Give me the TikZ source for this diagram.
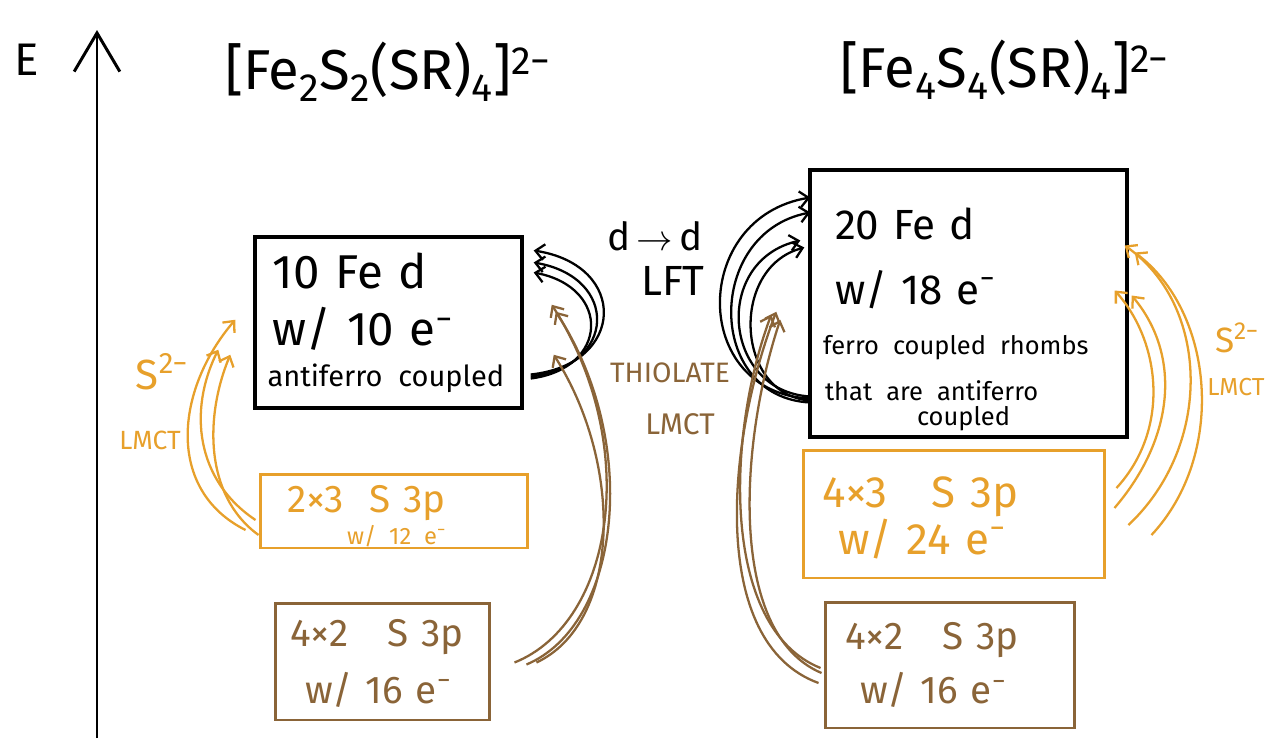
\documentclass[tikz,border=0pt]{standalone}
\usepackage{fontspec}
\setmainfont{Fira Sans}
\usepackage{xcolor}
\usetikzlibrary{arrows.meta,positioning,calc}
\definecolor{sorange}{RGB}{231,160,43}
\definecolor{sbrown}{RGB}{138,100,56}

\begin{document}
\begin{tikzpicture}[
  x=0.02cm, y=-0.02cm,
  febox/.style={draw, line width=2pt, align=left, inner ysep=0pt},
  sbox/.style={draw=sorange, text=sorange, line width=1.7pt, align=left, inner ysep=0pt},
  rbox/.style={draw=sbrown, text=sbrown, line width=1.7pt, align=left, inner ysep=0pt},
  title/.style={font=\fontsize{32}{38}\selectfont},
  lft/.style={line width=1.3pt, -{Straight Barb[length=5pt,width=9pt]}},
  lmct/.style={lft, draw=sorange},
  tlmct/.style={lft, draw=sbrown}
]
  \useasboundingbox (0,0) rectangle (1268,738);

  % energy axis
  \coordinate (eaxis0) at (97,738);
  \coordinate (eaxis1) at (97,30);
  \draw[line width=1.7pt, -{Straight Barb[length=22pt,width=26pt]}] (eaxis0) -- (eaxis1);
  \node[font=\fontsize{26}{30}\selectfont] (elbl) at (27,60) {E};

  % cluster formulas
  \node[title] (t2) at (388,72) {[Fe\textsubscript{2}S\textsubscript{2}(SR)\textsubscript{4}]\textsuperscript{2−}};
  \node[title] (t4) at (1005,70) {[Fe\textsubscript{4}S\textsubscript{4}(SR)\textsubscript{4}]\textsuperscript{2−}};

  % Fe2S2 levels
  \node[febox, minimum width=5.34cm, minimum height=3.42cm, text width=4.84cm, inner xsep=0.25cm,
        font=\fontsize{27}{33}\selectfont] (fe2d) at (388.5,322.5)
    {\hspace*{0.1cm}10 Fe d\\ \hspace*{0.1cm}w/ 10 e\textsuperscript{−}\\[-10pt]\fontsize{16.5}{33}\selectfont antiferro coupled};
  \node[sbox, minimum width=5.36cm, minimum height=1.48cm, text width=4.28cm, inner xsep=0.54cm,
        font=\fontsize{22}{26}\selectfont] (s2l) at (394,511)
    {\rule{0pt}{0.76cm}2×3\ \ S 3p\\[-8pt]\fontsize{13.5}{26}\selectfont\hspace*{1.2cm}w/ 12 e\textsuperscript{−}};
  \node[rbox, minimum width=4.3cm, minimum height=2.34cm, text width=3.7cm, inner xsep=0.3cm,
        font=\fontsize{22}{32}\selectfont] (srl) at (382.5,661.5)
    {\rule{0pt}{0.62cm}4×2\ \ \ S 3p\\\hspace*{0.3cm}w/ 16 e\textsuperscript{−}};

  % Fe4S4 levels
  \node[febox, minimum width=6.34cm, minimum height=5.34cm, text width=5.34cm, inner xsep=0.5cm,
        font=\fontsize{24}{26}\selectfont] (fe4d) at (968.5,303.5)
    {\rule{0pt}{1.26cm}20 Fe d\\[11pt] w/ 18 e\textsuperscript{−}\\[2.5pt]\fontsize{14.5}{26}\selectfont
     \hspace*{-0.24cm}ferro coupled rhombs\\ \hspace*{-0.2cm}that are antiferro\\[-11.8pt]\hspace*{1.64cm}coupled};
  \node[sbox, minimum width=6.04cm, minimum height=2.56cm, text width=5.28cm, inner xsep=0.38cm,
        font=\fontsize{25}{27}\selectfont] (s4r) at (954,514)
    {\rule{0pt}{0.76cm}4×3\ \ \ S 3p\\\hspace*{0.32cm}w/ 24 e\textsuperscript{−}};
  \node[rbox, minimum width=5cm, minimum height=2.52cm, text width=4.2cm, inner xsep=0.4cm,
        font=\fontsize{22}{31}\selectfont] (srr) at (950,665)
    {4×2\ \ \ S 3p\\\hspace*{0.3cm}w/ 16 e\textsuperscript{−}};

  % transition labels
  \node[font=\fontsize{22}{26}\selectfont] (ddlbl) at (655,236) {d\,$\rightarrow$\,d};
  \node[font=\fontsize{24}{28}\selectfont] (lftlbl) at (673,281) {LFT};
  \node[text=sbrown, font=\fontsize{16}{18}\selectfont] (thiollbl) at (670,373) {THIOLATE};
  \node[text=sbrown, font=\fontsize{17}{19}\selectfont] (tlmctlbl) at (680,424) {LMCT};
  \node[text=sorange, font=\fontsize{24}{28}\selectfont] (s2llbl) at (162,372) {S\textsuperscript{2−}};
  \node[text=sorange, font=\fontsize{15}{18}\selectfont] (lmctllbl) at (150,440) {LMCT};
  \node[text=sorange, font=\fontsize{20}{24}\selectfont] (s2rlbl) at (1237,338) {S\textsuperscript{2−}};
  \node[text=sorange, font=\fontsize{14}{18}\selectfont] (lmctrlbl) at (1236,387) {LMCT};

  % d -> d
  \foreach \ya/\yb/\bx in {52/-72/95, 54/-60/86, 56/-50/78}
    \draw[lft] ($(fe2d.east)+(7,\ya)$) .. controls +(\bx,-10) and +(\bx,15) .. ($(fe2d.east)+(10,\yb)$);
  \foreach \ya/\xb/\yb/\bx in {95/2/-106/-120, 99/2/-91/-105, 93/-8/-63/-88, 97/-4/-56/-75}
    \draw[lft] ($(fe4d.west)+(2,\ya)$) .. controls +(\bx,-5) and +(\bx,20) .. ($(fe4d.west)+(\xb,\yb)$);

  % S2- LMCT
  \draw[lmct] ($(s2l.west)+(-13,19)$) .. controls +(-80,-40) and +(-60,70) .. ($(fe2d.south west)+(-18,-90)$);
  \draw[lmct] ($(s2l.west)+(-3,9)$) .. controls +(-60,-40) and +(-30,60) .. ($(fe2d.south west)+(-35,-60)$);
  \draw[lmct] ($(s2l.west)+(0,24)$) .. controls +(-55,-40) and +(-25,60) .. ($(fe2d.south west)+(-23,-55)$);
  \draw[lmct] ($(s4r.east)+(45,21)$) .. controls +(75,-80) and +(80,60) .. ($(fe4d.east)+(6,-51)$);
  \draw[lmct] ($(s4r.east)+(22,11)$) .. controls +(85,-80) and +(85,60) .. ($(fe4d.east)+(-4,-58)$);
  \draw[lmct] ($(s4r.east)+(8,-6)$) .. controls +(60,-70) and +(50,60) .. ($(fe4d.east)+(3,-8)$);
  \draw[lmct] ($(s4r.east)+(10,-26)$) .. controls +(55,-60) and +(45,50) .. ($(fe4d.east)+(-14,-13)$);

  % thiolate LMCT
  \draw[tlmct] ($(srl.east)+(23,1)$) .. controls +(100,-40) and +(90,140) .. ($(fe2d.south east)+(28,-105)$);
  \draw[tlmct] ($(srl.east)+(35,3)$) .. controls +(95,-40) and +(85,130) .. ($(fe2d.south east)+(32,-98)$);
  \draw[tlmct] ($(srl.east)+(45,1)$) .. controls +(85,-40) and +(70,110) .. ($(fe2d.south east)+(30,-55)$);
  \draw[tlmct] ($(srr.west)+(-3,3)$) .. controls +(-100,-40) and +(-45,120) .. ($(fe4d.south west)+(-37,-124)$);
  \draw[tlmct] ($(srr.west)+(-5,18)$) .. controls +(-110,-40) and +(-50,130) .. ($(fe4d.south west)+(-32,-127)$);
  \draw[tlmct] ($(srr.west)+(-2,8)$) .. controls +(-95,-40) and +(-40,120) .. ($(fe4d.south west)+(-28,-119)$);
\end{tikzpicture}
\end{document}
